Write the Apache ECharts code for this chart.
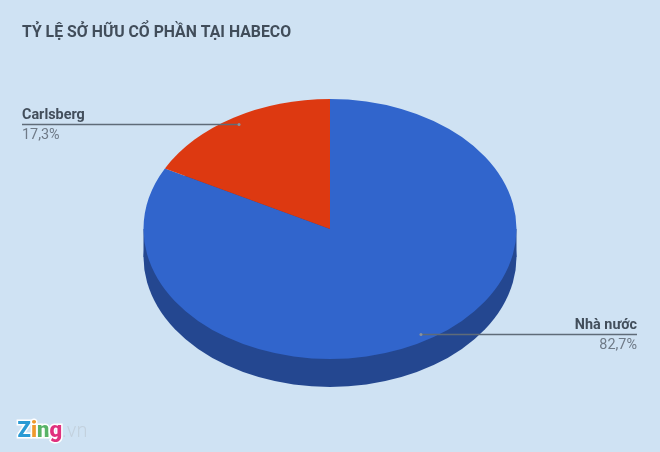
<!DOCTYPE html>
<html><head><meta charset="utf-8">
<style>html,body{margin:0;padding:0;background:#cfe2f3}#c{width:660px;height:452px}</style>
<script src="https://cdn.jsdelivr.net/npm/echarts@6/dist/echarts.min.js"></script>
</head><body><div id="c"></div>
<script>
const names = ['Nhà nước', 'Carlsberg'];
const values = [82.7, 17.3];
const valueLabels = ['82,7%', '17,3%'];
const sliceColors = ['#3165cc', '#dd3911'];
const sideColor = '#244790';
const chartTitle = 'TỶ LỆ SỞ HỮU CỔ PHẦN TẠI HABECO';

const CX = 330, CY = 229, RX = 186.5, RY = 130, DEPTH = 28, ANCHOR = 0.943;
const total = values.reduce((a, b) => a + b, 0);
const FONT = 'Roboto, sans-serif';
const k = RY / RX;

function ell(cy, start, end, fill) {
  return { type: 'sector', silent: true,
    shape: { cx: CX, cy: cy, r0: 0, r: RX, startAngle: start, endAngle: end, clockwise: true },
    style: { fill: fill, stroke: null }, scaleY: k, originX: CX, originY: cy };
}

function renderItem(params, api) {
  const i = params.dataIndex;
  let before = 0;
  for (let j = 0; j < i; j++) before += values[j];
  const a0 = -Math.PI / 2 + before / total * Math.PI * 2;
  const a1 = a0 + api.value(0) / total * Math.PI * 2;
  const children = [];
  if (i === 0) {
    children.push(ell(CY + DEPTH, 0, Math.PI * 2, sideColor));
    children.push({ type: 'rect', silent: true, shape: { x: CX - RX, y: CY, width: RX * 2, height: DEPTH }, style: { fill: sideColor } });
  }
  children.push(ell(CY, a0, a1, sliceColors[i]));
  return { type: 'group', children: children };
}

function renderLabel(params, api) {
  const i = params.dataIndex;
  let before = 0;
  for (let j = 0; j < i; j++) before += values[j];
  const mid = -Math.PI / 2 + (before + api.value(0) / 2) / total * Math.PI * 2;
  const ax = CX + Math.cos(mid) * RX * ANCHOR;
  const ay = Math.round(CY + Math.sin(mid) * RY * ANCHOR) + 0.5;
  const right = ax > CX;
  const tx = right ? 637 : 22;
  const align = right ? 'right' : 'left';
  return { type: 'group', children: [
    { type: 'line', silent: true, shape: { x1: ax, y1: ay, x2: tx, y2: ay }, style: { stroke: '#5f6b78', lineWidth: 1.5 } },
    { type: 'circle', silent: true, shape: { cx: ax, cy: ay, r: 1.5 }, style: { fill: '#8a929c' } },
    { type: 'text', silent: true, style: { x: tx, y: ay - 9.5, text: names[i], fill: '#424e5b', align: align, verticalAlign: 'middle', font: 'bold 14.4px ' + FONT } },
    { type: 'text', silent: true, style: { x: tx, y: ay + 10.5, text: valueLabels[i], fill: '#6f7a87', align: align, verticalAlign: 'middle', font: '14.4px ' + FONT } }
  ]};
}

const chart = echarts.init(document.getElementById('c'), null, { renderer: 'canvas' });
chart.setOption({
  animation: false,
  backgroundColor: '#cfe2f3',
  title: { text: chartTitle, left: 22, top: 25, padding: 0,
    textStyle: { fontFamily: FONT, fontSize: 15.8, fontWeight: 'bold', color: '#414d5a' } },
  tooltip: { show: false },
  series: [
    { type: 'custom', coordinateSystem: 'none', renderItem: renderItem, data: values.map(v => [v]), z: 1 },
    { type: 'custom', coordinateSystem: 'none', renderItem: renderLabel, data: values.map(v => [v]), z: 2 }
  ],
  graphic: [{
    type: 'text', left: 16, top: 419, silent: true,
    style: {
      text: '{a|Z}{b|i}{c|n}{d|g}{e|.vn}',
      rich: {
        a: { fill: '#2a9ad4', font: '900 22px ' + FONT, stroke: '#fff', lineWidth: 3 },
        b: { fill: '#ef9a2d', font: '900 22px ' + FONT, stroke: '#fff', lineWidth: 3 },
        c: { fill: '#58b368', font: '900 22px ' + FONT, stroke: '#fff', lineWidth: 3 },
        d: { fill: '#e0317e', font: '900 22px ' + FONT, stroke: '#fff', lineWidth: 3 },
        e: { fill: '#c3d1de', font: '300 20px ' + FONT }
      }
    }
  }]
});
</script></body></html>
